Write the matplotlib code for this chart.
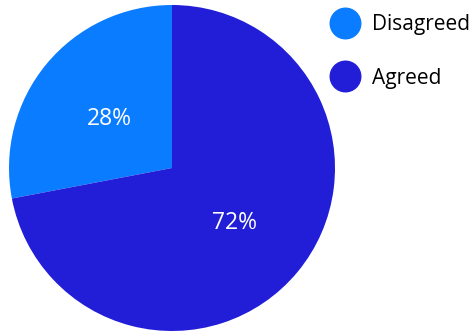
import matplotlib.pyplot as plt
from matplotlib.lines import Line2D

labels = ['Disagreed', 'Agreed']
values = [28, 72]
colors = ['#0A7CFF', '#221ED8']

plt.rcParams['font.family'] = ['Open Sans', 'DejaVu Sans']

fig = plt.figure(figsize=(4.71, 3.33), dpi=100)
ax = fig.add_axes([9 / 471, 2 / 333, 326 / 471, 326 / 333])

wedges, texts, autotexts = ax.pie(values, colors=colors, startangle=90, counterclock=True,
                                  autopct='%d%%', pctdistance=0.5,
                                  textprops={'color': 'white', 'fontsize': 16.5},
                                  wedgeprops={'linewidth': 0})
for t in autotexts:
    t.set_verticalalignment('center_baseline')
ax.set_xlim(-1, 1)
ax.set_ylim(-1, 1)
ax.set_aspect('equal')

handles = [Line2D([], [], marker='o', linestyle='none', markersize=22,
                  markerfacecolor=c, markeredgecolor=c) for c in colors]
fig.legend(handles, labels, loc='upper left', bbox_to_anchor=(316 / 471, 0.982),
           frameon=False, fontsize=15, handletextpad=0.3, labelspacing=1.55,
           borderaxespad=0)

fig.savefig('out.png', dpi=100)
